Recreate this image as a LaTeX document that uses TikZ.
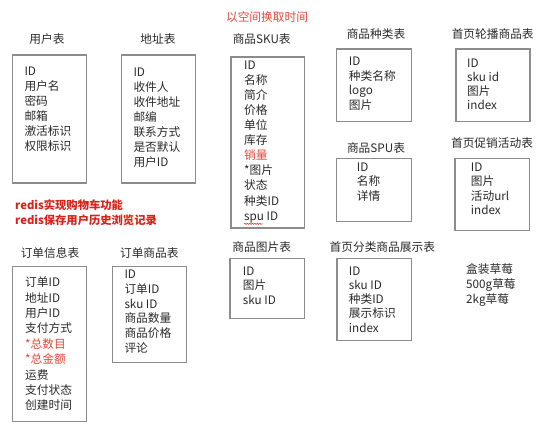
\documentclass[tikz,border=0pt]{standalone}
\usepackage{fontspec}
\setmainfont{Noto Sans CJK SC}
\usetikzlibrary{decorations.pathmorphing}
\definecolor{boxgray}{HTML}{8C8C8C}
\definecolor{softred}{HTML}{E2483C}
\definecolor{strongred}{HTML}{D9221A}
\definecolor{txt}{HTML}{2A2A2A}
\tikzset{
  tbl/.style={draw=boxgray, line width=1.3pt},
  ttl/.style={inner sep=0pt, text=txt, font=\fontsize{11.7}{14}\selectfont},
  fields/.style={anchor=north west, inner sep=0pt, align=left, text=txt, font=\fontsize{11.7}{#1}\selectfont},
}
\begin{document}
\begin{tikzpicture}[x=1pt,y=-1pt]
\useasboundingbox (0,0) rectangle (554,426);
\fill[white] (0,0) rectangle (554,426);

% top note
\node[ttl, text=softred] (note) at (267,17) {以空间换取时间};

% user table
\node[ttl] (tuser) at (47,39) {用户表};
\draw[tbl] (12.7,55) rectangle (86.7,183);
\node[fields=15] (fuser) at (24.3,66.3) {ID\\用户名\\密码\\邮箱\\激活标识\\权限标识};

% address table
\node[ttl] (taddr) at (158,39) {地址表};
\draw[tbl] (121.7,55) rectangle (195.7,183);
\node[fields=15.1] (faddr) at (133.3,67.3) {ID\\收件人\\收件地址\\邮编\\联系方式\\是否默认\\用户ID};

% SKU table
\node[ttl] (tsku) at (261.7,39) {商品SKU表};
\draw[tbl] (231,57) rectangle (304.7,228);
\node[fields=15.06] (fsku) at (244,60.7) {ID\\名称\\简介\\价格\\单位\\库存\\\textcolor{softred}{销量}\\*图片\\状态\\种类ID\\spu ID};
\draw[softred, line width=0.6pt, decorate, decoration={snake, amplitude=0.6pt, segment length=2.5pt}] (244,223.8) -- (263,223.8);

% category table
\node[ttl] (tcat) at (376,34) {商品种类表};
\draw[tbl] (336.7,49) rectangle (411.3,121.7);
\node[fields=14.7] (fcat) at (348.7,56.7) {ID\\种类名称\\logo\\图片};

% banner table
\node[ttl] (tban) at (492.7,34) {首页轮播商品表};
\draw[tbl] (456,49) rectangle (530,121.7);
\node[fields=14.1] (fban) at (467,58.3) {ID\\sku id\\图片\\index};

% SPU table
\node[ttl] (tspu) at (376,147.7) {商品SPU表};
\draw[tbl] (336.7,158.3) rectangle (411.3,221.7);
\node[fields=14.5] (fspu) at (356.7,162.3) {ID\\名称\\详情};

% promotion table
\node[ttl] (tpro) at (492,143.3) {首页促销活动表};
\draw[tbl] (455,158.3) rectangle (529.3,230.7);
\node[fields=14.6] (fpro) at (470.7,162.3) {ID\\图片\\活动url\\index};

% image table
\node[ttl] (timg) at (261.7,247.3) {商品图片表};
\draw[tbl] (230,258.3) rectangle (304.3,318.7);
\node[fields=14.5] (fimg) at (242.7,266.7) {ID\\图片\\sku ID};

% index category display table
\node[ttl] (tdis) at (382.3,247.3) {首页分类商品展示表};
\draw[tbl] (337,258.7) rectangle (411.3,340.7);
\node[fields=14.25] (fdis) at (348.7,266.3) {ID\\sku ID\\种类ID\\展示标识\\index};

% strawberry note
\node[fields=15.1] (berry) at (466,263) {盒装草莓\\500g草莓\\2kg草莓};

% redis note
\node[anchor=north west, inner sep=0pt, align=left, text=strongred, font=\fontsize{11.3}{15.7}\bfseries\selectfont] (redis) at (15,199) {redis实现购物车功能\\redis保存用户历史浏览记录};

% order info table
\node[ttl] (tord) at (50,253.3) {订单信息表};
\draw[tbl] (12.7,266.7) rectangle (86.7,421.7);
\node[fields=15.4] (ford) at (25,276.7) {订单ID\\地址ID\\用户ID\\支付方式\\\textcolor{softred}{*总数目}\\\textcolor{softred}{*总金额}\\运费\\支付状态\\创建时间};

% order goods table
\node[ttl] (togd) at (149.3,253.3) {订单商品表};
\draw[tbl] (112.7,266.7) rectangle (186.7,362.7);
\node[fields=14.7] (fogd) at (124.3,270) {ID\\订单ID\\sku ID\\商品数量\\商品价格\\评论};
\end{tikzpicture}
\end{document}
